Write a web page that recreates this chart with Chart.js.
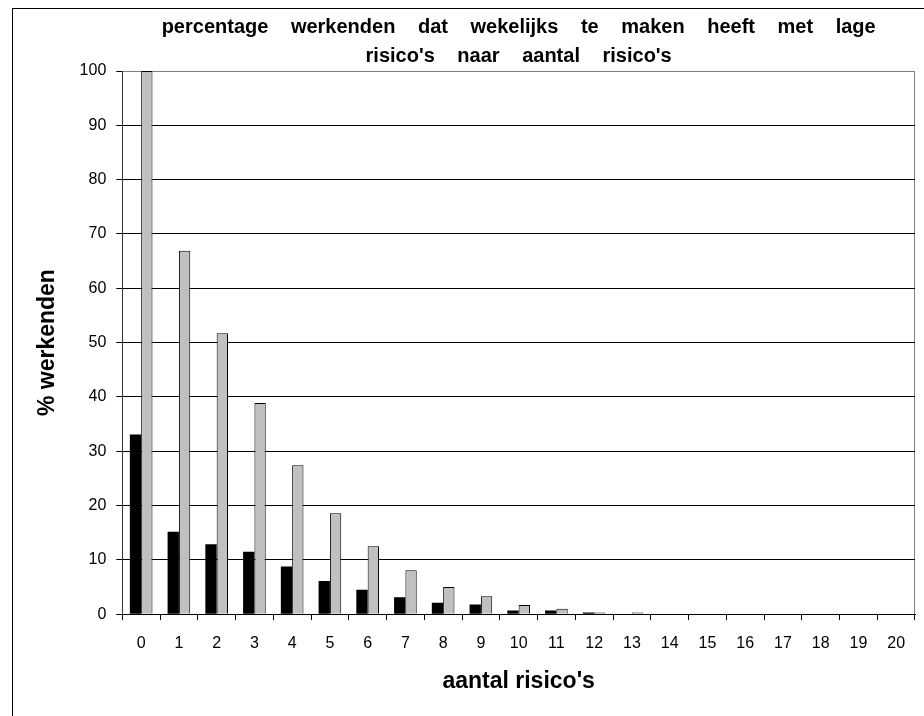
<!DOCTYPE html>
<html>
<head>
<meta charset="utf-8">
<script src="https://cdn.jsdelivr.net/npm/chart.js@4/dist/chart.umd.min.js"></script>
<style>
  body { margin: 0; background: #fff; }
  #frame { position: absolute; left: 12px; top: 8px; right: 0; bottom: 0; border-left: 1px solid #000; border-top: 1px solid #000; }
  #wrap { position: absolute; left: 0; top: 0; width: 924px; height: 716px; }
</style>
</head>
<body>
<div id="frame"></div>
<div id="wrap"><canvas id="myChart" width="924" height="716"></canvas></div>
<script>
// aantal risico's 0..20
var labels = ['0','1','2','3','4','5','6','7','8','9','10','11','12','13','14','15','16','17','18','19','20'];
var blackValues = [33.1, 15.2, 12.9, 11.5, 8.8, 6.1, 4.5, 3.1, 2.1, 1.8, 0.7, 0.7, 0.3, 0, 0, 0, 0, 0, 0, 0, 0];
var greyValues = [100, 66.9, 51.7, 38.9, 27.4, 18.6, 12.5, 8.1, 5.0, 3.3, 1.7, 1.0, 0.3, 0.3, 0, 0, 0, 0, 0, 0, 0];
var titleLines = ["percentage werkenden dat wekelijks te maken heeft met lage", "risico's naar aantal risico's"];

var fontFam = "Arial, 'Liberation Sans', sans-serif";

// the original title has very wide gaps between words
var wideTitle = {
    id: 'wideTitle',
    beforeDraw: function (chart) {
        let tb = chart.titleBlock;
        if (!tb || tb._wide) return;
        let orig = tb.draw.bind(tb);
        tb.draw = function () {
            chart.ctx.save();
            chart.ctx.wordSpacing = '17px';
            orig();
            chart.ctx.restore();
        };
        tb._wide = true;
    }
};

function drawChart() {
    let ctx = document.getElementById('myChart').getContext('2d');
    let chart = new Chart(ctx, {
        type: 'bar',
        data: {
            labels: labels,
            datasets: [{
                data: blackValues,
                backgroundColor: '#000000',
                borderColor: '#000000',
                borderWidth: 0
            }, {
                data: greyValues,
                backgroundColor: '#c0c0c0',
                borderColor: '#000000',
                borderWidth: 1
            }]
        },
        options: {
            responsive: false,
            animation: false,
            layout: { padding: { left: 34, right: 9, top: 5, bottom: 21 } },
            datasets: { bar: { categoryPercentage: 0.6, barPercentage: 1.0 } },
            plugins: {
                legend: { display: false },
                tooltip: { enabled: false },
                title: {
                    display: true,
                    fullSize: false,
                    text: titleLines,
                    color: '#000',
                    font: { family: fontFam, size: 20, weight: 'bold', lineHeight: 1.45 },
                    padding: { top: 8, bottom: 0 }
                }
            },
            scales: {
                x: {
                    grid: {
                        offset: true,
                        drawOnChartArea: true,
                        color: function (c) { return c.type === 'tick' ? 'rgba(0,0,0,0)' : '#808080'; },
                        tickColor: '#000',
                        tickLength: 6
                    },
                    border: { color: '#000', width: 1 },
                    ticks: { color: '#000', font: { family: fontFam, size: 16 }, padding: 14, maxRotation: 0, autoSkip: false },
                    title: { display: true, text: "aantal risico's", color: '#000', font: { family: fontFam, size: 23, weight: 'bold' }, padding: { top: 0, bottom: 0 } }
                },
                y: {
                    min: 0,
                    max: 100,
                    ticks: { stepSize: 10, color: '#000', font: { family: fontFam, size: 16 }, padding: 10 },
                    grid: {
                        color: function (c) { return c.tick && c.tick.value === 100 ? '#808080' : '#000'; },
                        tickColor: '#000',
                        tickLength: 6
                    },
                    border: { color: '#333', width: 1 },
                    title: { display: true, text: '% werkenden', color: '#000', font: { family: fontFam, size: 23, weight: 'bold' }, padding: { top: 0, bottom: 8 } }
                }
            }
        },
        plugins: [wideTitle]
    });
    return chart;
}
drawChart();
</script>
</body>
</html>
